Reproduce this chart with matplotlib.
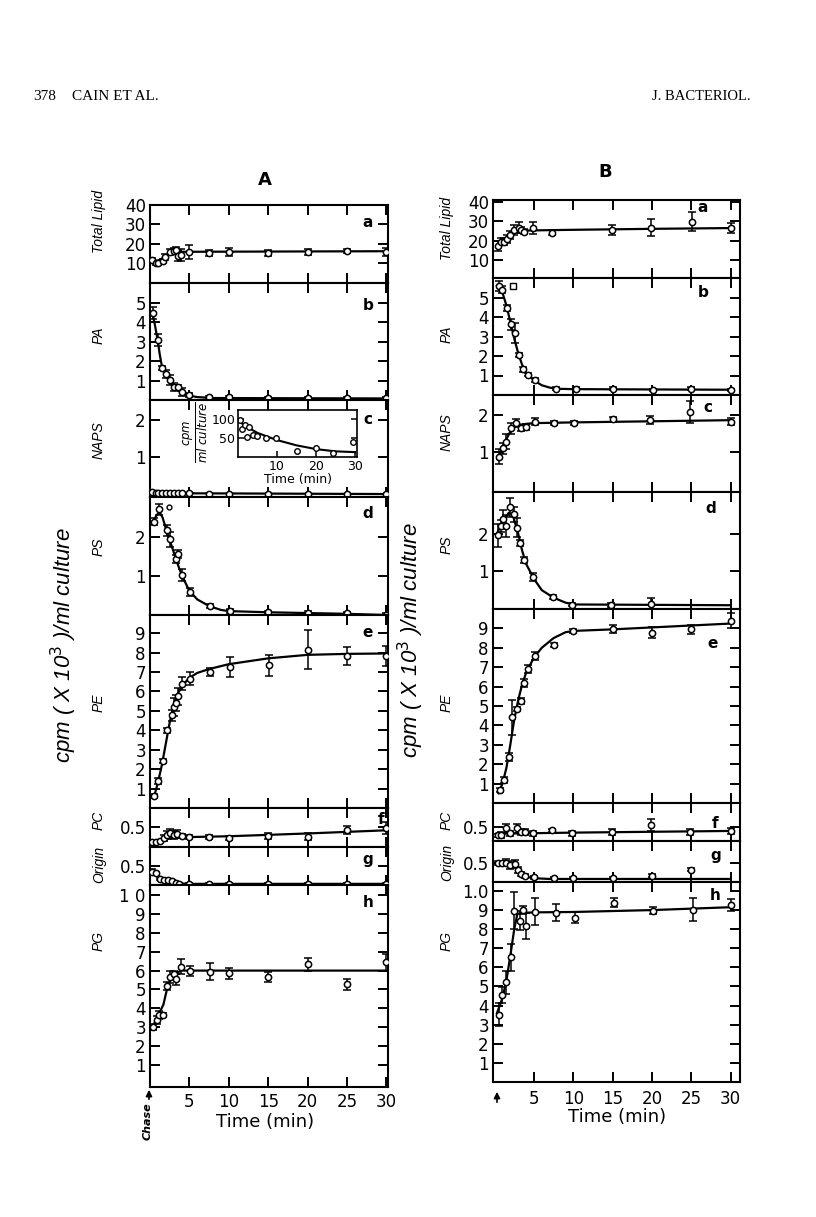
import matplotlib
matplotlib.use('Agg')
import matplotlib.pyplot as plt

W, H = 816, 1217

# ---------------- column A data (time in min) ----------------
A_lipid_t = [0.3, 0.7, 1.0, 1.6, 1.9, 2.5, 3.0, 3.3, 3.6, 3.9, 5, 7.5, 10, 15, 20, 25, 30]
A_lipid_v = [11.8, 10.1, 10.4, 11.3, 13.5, 16.0, 16.6, 16.9, 13.8, 14.4, 16.0, 15.2, 15.7, 15.2, 15.9, 16.4, 16.0]
A_lipid_e = [1.0, 1.0, 1.0, 1.0, 1.5, 1.5, 1.5, 1.5, 2.5, 3.0, 3.5, 1.5, 2.0, 1.5, 1.5, 1.0, 2.0]
A_lipid_fit_t = [0.2, 1, 1.5, 2, 2.5, 3, 4, 30]
A_lipid_fit_v = [11.0, 11.5, 12.5, 14.0, 15.3, 15.8, 16.0, 16.3]

A_pa_t = [0.35, 1.0, 1.5, 2.0, 2.5, 3.0, 3.5, 4.0, 5.0, 7.5, 10, 15, 20, 25, 30]
A_pa_v = [4.45, 3.08, 1.66, 1.32, 1.03, 0.68, 0.68, 0.43, 0.26, 0.17, 0.14, 0.08, 0.08, 0.12, 0.08]
A_pa_e = [0.3, 0.3, 0.1, 0.2, 0.25, 0.2, 0.1, 0.2, 0.1, 0.05, 0.05, 0.05, 0.05, 0.05, 0.05]
A_pa_fit_t = [0.3, 0.6, 1.0, 1.25, 1.5, 2, 2.5, 3, 3.5, 4, 5, 6, 8, 30]
A_pa_fit_v = [4.5, 3.9, 3.0, 2.3, 1.75, 1.25, 0.95, 0.7, 0.5, 0.37, 0.22, 0.15, 0.1, 0.08]

A_naps_t = [0.3, 0.7, 1.0, 1.5, 2.0, 2.5, 3.0, 3.5, 4, 5, 7.5, 10, 15, 20, 25, 30]
A_naps_v = [0.06, 0.02, 0.03, 0.02, 0.02, 0.02, 0.02, 0.02, 0.02, 0.02, 0.01, 0.01, 0.0, 0.0, 0.0, 0.0]
A_naps_fit_t = [0.2, 5, 30]
A_naps_fit_v = [0.03, 0.02, 0.0]

A_inset_t = [0.4, 1.0, 1.7, 2.3, 2.9, 3.8, 4.8, 7.3, 9.8, 15.1, 19.9, 24.3, 29.5]
A_inset_v = [98, 74, 85, 53, 80, 59, 56, 50, 50, 17, 24, 11, 40]
A_inset_fit_t = [0, 2, 5, 10, 15, 20, 25, 30]
A_inset_fit_v = [97, 82, 64, 45, 31, 21, 15, 13]

A_ps_t = [0.5, 1.2, 2.2, 2.5, 3.3, 3.6, 4.1, 5.1, 7.6, 10.2, 15, 20, 25, 30]
A_ps_v = [2.4, 2.71, 2.17, 1.94, 1.44, 1.57, 1.03, 0.59, 0.23, 0.1, 0.07, 0.06, 0.04, 0.01]
A_ps_e = [0.1, 0.15, 0.15, 0.2, 0.1, 0.1, 0.15, 0.1, 0.05, 0.05, 0.03, 0.03, 0.03, 0.03]
A_ps_extra_t = [2.45]
A_ps_extra_v = [2.77]
A_ps_fit_t = [0.3, 0.8, 1.2, 1.6, 2.2, 2.7, 3.2, 3.7, 4.2, 5, 6, 7.5, 9, 10, 15, 20, 25, 30]
A_ps_fit_v = [2.35, 2.55, 2.65, 2.5, 2.1, 1.8, 1.5, 1.2, 0.95, 0.62, 0.4, 0.23, 0.13, 0.1, 0.07, 0.05, 0.03, 0.0]

A_pe_t = [0.55, 1.05, 1.7, 2.2, 2.75, 3.1, 3.3, 3.6, 4.1, 5.1, 7.6, 10.1, 15.1, 20.1, 25, 30]
A_pe_v = [0.64, 1.38, 2.44, 3.99, 4.76, 5.19, 5.4, 5.74, 6.4, 6.66, 7.0, 7.26, 7.34, 8.15, 7.82, 7.82]
A_pe_e = [0.1, 0.15, 0.1, 0.15, 0.3, 0.45, 0.4, 0.45, 0.35, 0.35, 0.2, 0.5, 0.55, 1.0, 0.45, 0.5]
A_pe_fit_t = [0.5, 1, 1.5, 2, 2.5, 3, 3.5, 4, 5, 6, 7.5, 10, 15, 20, 25, 30]
A_pe_fit_v = [0.55, 1.3, 2.2, 3.3, 4.4, 5.3, 5.85, 6.25, 6.7, 6.95, 7.15, 7.4, 7.7, 7.88, 7.93, 7.95]

A_pc_t = [0.3, 0.8, 1.3, 1.8, 2.2, 2.6, 3.0, 3.4, 4.0, 5, 7.5, 10, 15, 20, 25, 30]
A_pc_v = [0.12, 0.13, 0.15, 0.22, 0.3, 0.35, 0.3, 0.33, 0.28, 0.26, 0.26, 0.22, 0.28, 0.26, 0.43, 0.47]
A_pc_e = [0.03, 0.03, 0.03, 0.08, 0.1, 0.1, 0.1, 0.1, 0.05, 0.05, 0.05, 0.05, 0.08, 0.08, 0.1, 0.15]
A_pc_fit_t = [0.2, 1, 2, 3, 5, 10, 20, 30]
A_pc_fit_v = [0.12, 0.15, 0.2, 0.23, 0.25, 0.27, 0.34, 0.42]

A_or_t = [0.3, 0.8, 1.3, 1.8, 2.3, 2.8, 3.3, 3.7, 5, 7.5, 10, 15, 20, 25, 30]
A_or_v = [0.35, 0.32, 0.15, 0.13, 0.13, 0.1, 0.06, 0.03, 0.03, 0.03, 0.03, 0.03, 0.03, 0.03, 0.03]
A_or_e = [0.08, 0.03, 0.03, 0.03, 0.03, 0.03, 0.03, 0.03, 0.03, 0.03, 0.03, 0.03, 0.03, 0.03, 0.03]
A_or_fit_t = [0.2, 0.8, 1.3, 2, 3, 4, 5, 30]
A_or_fit_v = [0.37, 0.3, 0.2, 0.14, 0.08, 0.04, 0.03, 0.03]

A_pg_t = [0.4, 0.9, 1.2, 1.7, 2.2, 2.6, 3.0, 3.3, 3.9, 5.1, 7.6, 10, 15, 20, 25, 30]
A_pg_v = [3.0, 3.4, 3.65, 3.65, 5.18, 5.67, 5.8, 5.53, 6.2, 5.99, 5.94, 5.85, 5.67, 6.33, 5.27, 6.43]
A_pg_e = [0.15, 0.2, 0.2, 0.1, 0.2, 0.3, 0.2, 0.3, 0.4, 0.25, 0.45, 0.3, 0.25, 0.35, 0.3, 0.45]
A_pg_fit_t = [0.3, 1.0, 1.7, 2.2, 2.7, 3.2, 4, 5, 30]
A_pg_fit_v = [3.0, 3.6, 4.2, 5.1, 5.6, 5.85, 6.0, 6.0, 6.0]

# ---------------- column B data ----------------
B_lipid_t = [0.4, 0.83, 1.26, 1.56, 2.0, 2.5, 3.05, 3.4, 3.7, 4.9, 7.3, 14.9, 19.9, 25.1, 30]
B_lipid_v = [17.3, 19.5, 19.5, 20.7, 22.9, 25.5, 26.7, 25.5, 24.7, 26.4, 24.2, 25.5, 26.7, 29.8, 26.5]
B_lipid_e = [2.5, 2, 2, 2, 2, 2.5, 3, 1.5, 1.5, 3, 1.5, 2.5, 4.5, 5, 2.5]
B_lipid_fit_t = [0.3, 1, 2, 3, 4, 5, 10, 20, 30]
B_lipid_fit_v = [17.0, 19.7, 22.7, 24.6, 25.2, 25.3, 25.6, 26.1, 26.5]

B_pa_t = [0.5, 0.9, 1.56, 2.1, 2.6, 3.1, 3.6, 4.3, 5.2, 7.8, 10.3, 15, 20.1, 25, 30]
B_pa_v = [5.58, 5.41, 4.47, 3.62, 3.19, 2.03, 1.31, 1.05, 0.76, 0.32, 0.33, 0.32, 0.28, 0.32, 0.25]
B_pa_e = [0.25, 0.2, 0.15, 0.3, 0.5, 0.1, 0.15, 0.1, 0.1, 0.08, 0.1, 0.08, 0.05, 0.08, 0.05]
B_pa_extra_t = [2.4]
B_pa_extra_v = [5.58]
B_pa_fit_t = [0.3, 1.0, 1.5, 2.0, 2.5, 3.0, 3.5, 4.0, 5, 6, 7, 8, 10, 30]
B_pa_fit_v = [5.6, 5.25, 4.6, 3.75, 2.9, 2.15, 1.55, 1.15, 0.75, 0.5, 0.38, 0.32, 0.3, 0.27]

B_naps_t = [0.5, 1.1, 1.5, 2.1, 2.7, 3.3, 4.0, 5.2, 7.6, 10.1, 15, 19.8, 24.8, 30]
B_naps_v = [0.87, 1.1, 1.28, 1.64, 1.78, 1.64, 1.68, 1.82, 1.78, 1.79, 1.88, 1.86, 2.09, 1.82]
B_naps_e = [0.2, 0.15, 0.2, 0.15, 0.1, 0.08, 0.08, 0.1, 0.06, 0.05, 0.06, 0.1, 0.3, 0.1]
B_naps_fit_t = [0.4, 1, 1.5, 2, 2.5, 3, 4, 5, 10, 20, 30]
B_naps_fit_v = [0.8, 1.1, 1.35, 1.55, 1.68, 1.73, 1.76, 1.78, 1.8, 1.83, 1.86]

B_ps_t = [0.47, 0.77, 1.1, 1.4, 1.97, 2.5, 2.8, 3.2, 3.8, 4.9, 7.4, 9.8, 14.8, 19.9]
B_ps_v = [1.95, 2.2, 2.38, 2.2, 2.69, 2.51, 2.15, 1.76, 1.3, 0.85, 0.31, 0.11, 0.1, 0.13]
B_ps_e = [0.3, 0.15, 0.25, 0.3, 0.25, 0.2, 0.25, 0.08, 0.08, 0.1, 0.05, 0.04, 0.05, 0.15]
B_ps_fit_t = [0.3, 1, 1.8, 2.3, 3, 3.5, 4, 5, 6, 7.5, 9, 10, 30]
B_ps_fit_v = [2.0, 2.3, 2.55, 2.5, 2.0, 1.55, 1.2, 0.8, 0.5, 0.3, 0.17, 0.12, 0.1]

B_pe_t = [0.7, 1.2, 1.8, 2.2, 2.9, 3.3, 3.7, 4.2, 5.1, 7.6, 10, 15, 20, 25, 30]
B_pe_v = [0.66, 1.17, 2.37, 4.42, 4.85, 5.27, 6.2, 6.9, 7.58, 8.14, 8.86, 8.98, 8.78, 8.95, 9.4]
B_pe_e = [0.1, 0.15, 0.2, 0.9, 0.1, 0.15, 0.2, 0.2, 0.2, 0.1, 0.1, 0.2, 0.3, 0.25, 0.4]
B_pe_fit_t = [0.5, 1, 1.5, 2, 2.5, 3, 3.5, 4, 5, 6, 7.5, 9, 10, 15, 20, 25, 30]
B_pe_fit_v = [0.5, 1.0, 1.8, 3.0, 4.3, 5.3, 6.1, 6.7, 7.5, 8.0, 8.5, 8.8, 8.87, 8.95, 9.05, 9.15, 9.25]

B_pc_t = [0.4, 0.8, 1.5, 1.9, 2.9, 3.4, 3.9, 4.9, 7.3, 9.8, 14.9, 19.9, 24.9, 30]
B_pc_v = [0.21, 0.21, 0.45, 0.27, 0.45, 0.33, 0.33, 0.27, 0.39, 0.27, 0.33, 0.57, 0.33, 0.35]
B_pc_e = [0.05, 0.1, 0.15, 0.1, 0.15, 0.1, 0.1, 0.1, 0.05, 0.1, 0.1, 0.2, 0.1, 0.1]
B_pc_fit_t = [0.2, 10, 20, 30]
B_pc_fit_v = [0.26, 0.3, 0.33, 0.36]

B_or_t = [0.4, 0.9, 1.5, 2.0, 2.6, 3.0, 3.4, 3.9, 5.0, 7.6, 10, 15, 20, 25]
B_or_v = [0.51, 0.51, 0.51, 0.45, 0.47, 0.32, 0.21, 0.16, 0.12, 0.1, 0.1, 0.1, 0.16, 0.32]
B_or_e = [0.05, 0.05, 0.1, 0.1, 0.1, 0.08, 0.05, 0.05, 0.04, 0.03, 0.03, 0.03, 0.04, 0.04]
B_or_fit_t = [0.2, 1, 2, 2.5, 3, 3.5, 4, 5, 7, 30]
B_or_fit_v = [0.5, 0.5, 0.48, 0.42, 0.3, 0.2, 0.14, 0.1, 0.08, 0.08]

B_pg_t = [0.5, 0.9, 1.5, 2.1, 2.5, 3.2, 3.6, 4.0, 5.1, 7.8, 10.2, 15.2, 20.2, 25.2, 30]
B_pg_v = [3.51, 4.56, 5.22, 6.53, 8.97, 8.45, 9.0, 8.17, 8.92, 8.87, 8.61, 9.39, 8.97, 9.01, 9.27]
B_pg_e = [0.6, 0.4, 0.6, 0.7, 0.97, 0.5, 0.2, 0.7, 0.7, 0.45, 0.3, 0.25, 0.2, 0.6, 0.3]
B_pg_fit_t = [0.3, 1, 1.5, 2, 2.5, 2.9, 3.5, 5, 10, 20, 30]
B_pg_fit_v = [3.6, 4.4, 5.3, 6.6, 8.0, 8.8, 8.85, 8.88, 8.9, 9.0, 9.15]

time_ticks = [5, 10, 15, 20, 25, 30]

fig = plt.figure(figsize=(W / 100, H / 100), dpi=100)
fig.patch.set_facecolor('white')


def box(l, r, t, b):
    return [l / W, 1 - b / H, (r - l) / W, (b - t) / H]


def panel(rect, xlim, ylim, yt, ytl, t, v, e, ft, fv, letter, lx, ly):
    ax = fig.add_axes(rect)
    ax.set_xlim(*xlim)
    ax.set_ylim(*ylim)
    for s in ax.spines.values():
        s.set_linewidth(1.5)
    ax.set_xticks(time_ticks)
    ax.set_xticklabels([])
    ax.set_yticks(yt)
    ax.set_yticklabels(ytl)
    ax.tick_params(direction='in', top=True, right=True, length=7, width=1.4,
                   labelsize=12, pad=3)
    ax.plot(ft, fv, color='black', lw=1.6, zorder=2)
    if e is None:
        ax.plot(t, v, 'o', ms=4.5, mfc='white', mec='black', mew=1.1, zorder=3)
    else:
        ax.errorbar(t, v, yerr=e, fmt='o', ms=4.5, mfc='white', mec='black', mew=1.1,
                    ecolor='black', elinewidth=1.1, capsize=3, capthick=1.1, zorder=3)
    ax.text(lx, ly, letter, transform=ax.transAxes, fontsize=11, fontweight='bold',
            ha='center', va='center')
    return ax


xA = (0, 30.2)
xB = (-0.2, 31.2)

# ---- column A ----
LA, RA = 150, 388
panel(box(LA, RA, 205, 283), xA, (0, 40), [10, 20, 30, 40], ['10', '20', '30', '40'],
      A_lipid_t, A_lipid_v, A_lipid_e, A_lipid_fit_t, A_lipid_fit_v, 'a', 0.915, 0.77)
panel(box(LA, RA, 283, 400), xA, (0, 6.0), [1, 2, 3, 4, 5], ['1', '2', '3', '4', '5'],
      A_pa_t, A_pa_v, A_pa_e, A_pa_fit_t, A_pa_fit_v, 'b', 0.915, 0.81)
axc = panel(box(LA, RA, 400, 497), xA, (-0.08, 2.54), [1, 2], ['1', '2'],
            A_naps_t, A_naps_v, None, A_naps_fit_t, A_naps_fit_v, 'c', 0.915, 0.8)
axd = panel(box(LA, RA, 497, 615), xA, (0, 3.03), [1, 2], ['1', '2'],
            A_ps_t, A_ps_v, A_ps_e, A_ps_fit_t, A_ps_fit_v, 'd', 0.915, 0.86)
axd.plot(A_ps_extra_t, A_ps_extra_v, 'o', ms=3.5, mfc='white', mec='black', mew=1.0)
panel(box(LA, RA, 615, 808), xA, (0, 9.93), list(range(1, 10)), [str(i) for i in range(1, 10)],
      A_pe_t, A_pe_v, A_pe_e, A_pe_fit_t, A_pe_fit_v, 'e', 0.915, 0.91)
panel(box(LA, RA, 808, 847), xA, (0, 0.98), [0.5], ['0.5'],
      A_pc_t, A_pc_v, A_pc_e, A_pc_fit_t, A_pc_fit_v, 'f', 0.97, 0.7)
panel(box(LA, RA, 847, 885), xA, (0, 1.0), [0.5], ['0.5'],
      A_or_t, A_or_v, A_or_e, A_or_fit_t, A_or_fit_v, 'g', 0.915, 0.66)
axh = panel(box(LA, RA, 885, 1087), xA, (-0.16, 10.53), list(range(1, 11)),
            [str(i) for i in range(1, 10)] + ['1 0'],
            A_pg_t, A_pg_v, A_pg_e, A_pg_fit_t, A_pg_fit_v, 'h', 0.915, 0.915)
axh.set_xticklabels([str(v) for v in time_ticks])
axh.tick_params(axis='x', labelsize=12, pad=4)

# inset in panel c
axi = fig.add_axes(box(238, 357, 410, 457))
axi.set_xlim(0, 30.5)
axi.set_ylim(0, 125)
for s in axi.spines.values():
    s.set_linewidth(1.2)
axi.set_xticks([10, 20, 30])
axi.set_yticks([50, 100])
axi.tick_params(direction='in', right=True, length=4, width=1.1, labelsize=9, pad=2)
axi.plot(A_inset_fit_t, A_inset_fit_v, color='black', lw=1.5)
axi.plot(A_inset_t, A_inset_v, 'o', ms=4, mfc='white', mec='black', mew=1.0)
axi.set_xlabel('Time (min)', fontsize=9, labelpad=0)
fig.text(196 / W, 1 - 432 / H, r'$\dfrac{cpm}{ml\ culture}$', rotation=90,
         fontsize=8.5, ha='center', va='center')

# ---- column B ----
LB, RB = 493, 740
panel(box(LB, RB, 200, 278), xB, (0.7, 41), [10, 20, 30, 40], ['10', '20', '30', '40'],
      B_lipid_t, B_lipid_v, B_lipid_e, B_lipid_fit_t, B_lipid_fit_v, 'a', 0.85, 0.9)
axbb = panel(box(LB, RB, 278, 395), xB, (0, 6.0), [1, 2, 3, 4, 5], ['1', '2', '3', '4', '5'],
             B_pa_t, B_pa_v, B_pa_e, B_pa_fit_t, B_pa_fit_v, 'b', 0.85, 0.88)
axbb.plot(B_pa_extra_t, B_pa_extra_v, 's', ms=4, mfc='white', mec='black', mew=1.0)
panel(box(LB, RB, 395, 492), xB, (-0.08, 2.54), [1, 2], ['1', '2'],
      B_naps_t, B_naps_v, B_naps_e, B_naps_fit_t, B_naps_fit_v, 'c', 0.87, 0.87)
panel(box(LB, RB, 492, 609), xB, (0, 3.1), [1, 2], ['1', '2'],
      B_ps_t, B_ps_v, B_ps_e, B_ps_fit_t, B_ps_fit_v, 'd', 0.88, 0.86)
panel(box(LB, RB, 609, 803), xB, (0, 10), list(range(1, 10)), [str(i) for i in range(1, 10)],
      B_pe_t, B_pe_v, B_pe_e, B_pe_fit_t, B_pe_fit_v, 'e', 0.89, 0.82)
panel(box(LB, RB, 803, 841), xB, (0, 1.36), [0.5], ['0.5'],
      B_pc_t, B_pc_v, B_pc_e, B_pc_fit_t, B_pc_fit_v, 'f', 0.9, 0.47)
panel(box(LB, RB, 841, 882), xB, (0, 1.08), [0.5], ['0.5'],
      B_or_t, B_or_v, B_or_e, B_or_fit_t, B_or_fit_v, 'g', 0.9, 0.65)
axbh = panel(box(LB, RB, 882, 1082), xB, (0, 10.47), list(range(1, 11)),
             [str(i) for i in range(1, 10)] + ['1.0'],
             B_pg_t, B_pg_v, B_pg_e, B_pg_fit_t, B_pg_fit_v, 'h', 0.9, 0.935)
axbh.set_xticklabels([str(v) for v in time_ticks])
axbh.tick_params(axis='x', labelsize=12, pad=6)


# ---- labels ----
def ftext(x, y, s, **kw):
    fig.text(x / W, 1 - y / H, s, **kw)


lab_kw = dict(rotation=90, fontsize=10, style='italic', ha='center', va='center',
              family='Liberation Sans')
names_A = [('Total Lipid', 221), ('PA', 335), ('NAPS', 440), ('PS', 547),
           ('PE', 703), ('PC', 820), ('Origin', 864), ('PG', 941)]
names_B = [('Total Lipid', 228), ('PA', 334), ('NAPS', 432), ('PS', 545),
           ('PE', 703), ('PC', 820), ('Origin', 862), ('PG', 941)]
for s, yy in names_A:
    ftext(99, yy, s, **lab_kw)
for s, yy in names_B:
    ftext(447, yy, s, **lab_kw)

big_kw = dict(rotation=90, fontsize=16, style='italic', ha='center', va='center',
              family='Liberation Sans')
ftext(64, 645, r'cpm ( X 10$^{3}$ )/ml culture', **big_kw)
ftext(411, 640, r'cpm ( X 10$^{3}$ )/ml culture', **big_kw)

ftext(265, 180, 'A', fontsize=13, fontweight='bold', ha='center', va='center')
ftext(605, 172, 'B', fontsize=13, fontweight='bold', ha='center', va='center')

ftext(265, 1122, 'Time (min)', fontsize=13, ha='center', va='center')
ftext(617, 1117, 'Time (min)', fontsize=13, ha='center', va='center')

ftext(148, 1121, 'Chase', rotation=90, fontsize=8, style='italic', fontweight='bold',
      ha='center', va='center')
fig.add_artist(matplotlib.patches.FancyArrowPatch(
    (149 / W, 1 - 1102 / H), (149 / W, 1 - 1087 / H), transform=fig.transFigure,
    arrowstyle='-|>', mutation_scale=9, lw=1.2, color='black'))
fig.add_artist(matplotlib.patches.FancyArrowPatch(
    (497 / W, 1 - 1105 / H), (497 / W, 1 - 1089 / H), transform=fig.transFigure,
    arrowstyle='-|>', mutation_scale=9, lw=1.2, color='black'))

# page header
ftext(33, 97, '378', fontsize=11, family='Liberation Serif', ha='left', va='center')
ftext(72, 97, 'CAIN ET AL.', fontsize=11, family='Liberation Serif', ha='left', va='center')
ftext(751, 97, 'J. BACTERIOL.', fontsize=10.5, family='Liberation Serif', ha='right', va='center')

fig.savefig('out.png', dpi=100, facecolor='white')
